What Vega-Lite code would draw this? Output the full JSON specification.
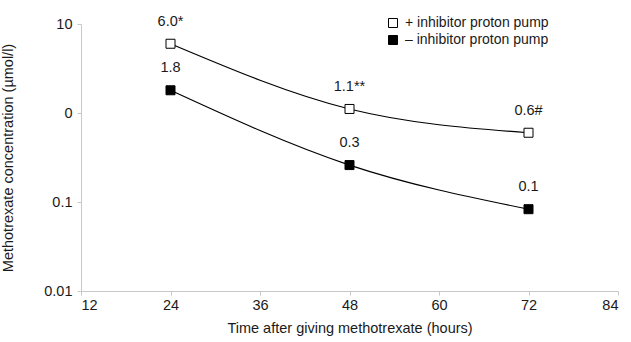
{
  "$schema": "https://vega.github.io/schema/vega-lite/v6.json",
  "width": 537,
  "height": 267,
  "autosize": {"type": "none"},
  "padding": {"left": 81, "top": 24, "right": 13, "bottom": 51},
  "background": "white",
  "config": {
    "font": "Liberation Sans",
    "view": {"stroke": null},
    "axis": {"grid": false, "domainColor": "#c8c8c8", "tickColor": "#c8c8c8", "labelColor": "#1a1a1a", "titleColor": "#1a1a1a", "labelFontSize": 14.5, "titleFontSize": 14.5, "titleFontWeight": "normal", "labelFont": "Liberation Sans", "titleFont": "Liberation Sans"}
  },
  "data": {
    "values": [
      {"hours": 24, "conc": 6.0, "label": "6.0*", "group": "+ inhibitor proton pump"},
      {"hours": 48, "conc": 1.11, "label": "1.1**", "group": "+ inhibitor proton pump"},
      {"hours": 72, "conc": 0.6, "label": "0.6#", "group": "+ inhibitor proton pump"},
      {"hours": 24, "conc": 1.8, "label": "1.8", "group": "– inhibitor proton pump"},
      {"hours": 48, "conc": 0.26, "label": "0.3", "group": "– inhibitor proton pump"},
      {"hours": 72, "conc": 0.083, "label": "0.1", "group": "– inhibitor proton pump"}
    ]
  },
  "encoding": {
    "x": {"field": "hours", "type": "quantitative", "scale": {"domain": [12, 84], "nice": false},
      "axis": {"values": [12, 24, 36, 48, 60, 72, 84], "title": "Time after giving methotrexate (hours)", "tickSize": 4, "labelPadding": 3, "titlePadding": 10}},
    "y": {"field": "conc", "type": "quantitative", "scale": {"type": "log", "domain": [0.01, 10], "nice": false},
      "axis": {"values": [0.01, 0.1, 1, 10], "labelExpr": "datum.value == 1 ? '0' : datum.value == 10 ? '10' : datum.value == 0.1 ? '0.1' : '0.01'", "title": "Methotrexate concentration (µmol/l)", "tickSize": 4, "labelPadding": 5, "titleX": -66, "titleY": 133.5}}
  },
  "layer": [
    {
      "mark": {"type": "line", "interpolate": "monotone", "color": "black", "strokeWidth": 1.2},
      "encoding": {"detail": {"field": "group"}}
    },
    {
      "mark": {"type": "point", "shape": "square", "filled": true, "size": 81, "stroke": "black", "strokeWidth": 1, "opacity": 1},
      "encoding": {
        "fill": {"field": "group", "type": "nominal", "scale": {"domain": ["+ inhibitor proton pump", "– inhibitor proton pump"], "range": ["white", "black"]},
          "legend": {"title": null, "orient": "none", "legendX": 305, "legendY": -8, "symbolType": "square", "symbolSize": 81, "symbolStrokeColor": "black", "symbolStrokeWidth": 1, "labelFontSize": 14, "labelColor": "#1a1a1a", "labelFont": "Liberation Sans", "rowPadding": 3, "labelOffset": 5}}
      }
    },
    {
      "mark": {"type": "text", "dy": -22, "fontSize": 14.5, "color": "#1a1a1a", "align": "center", "baseline": "middle"},
      "encoding": {"text": {"field": "label"}}
    }
  ]
}
